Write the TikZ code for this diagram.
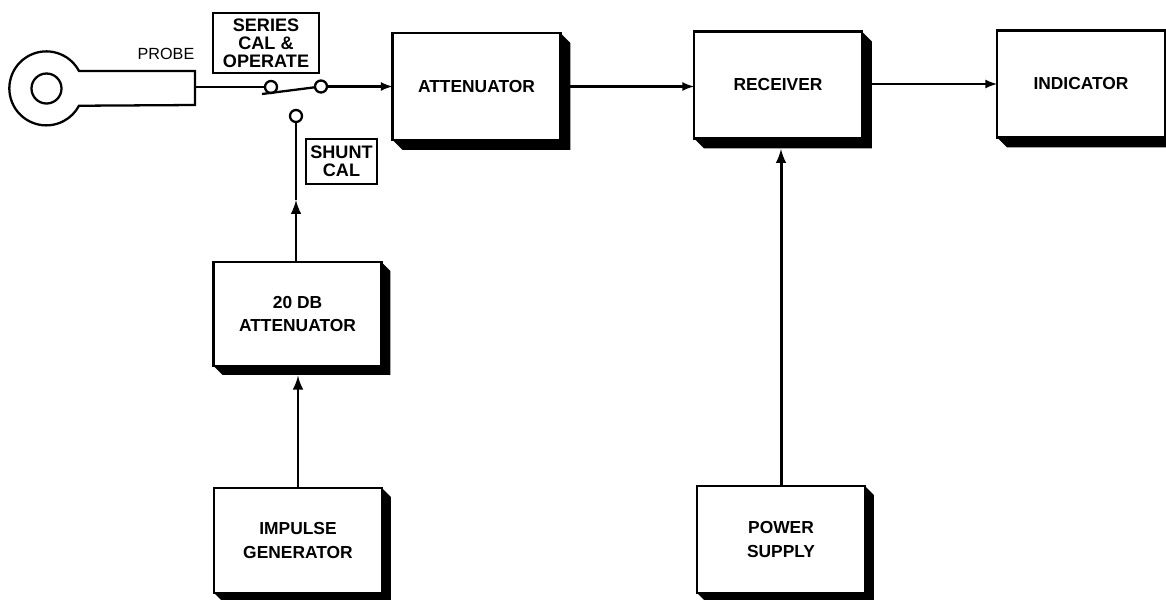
\documentclass[tikz,border=0pt]{standalone}
\usepackage{fontspec}
\setmainfont{Liberation Sans}
\usetikzlibrary{calc}
\tikzset{
	block/.style={draw, line width=1.4pt, fill=white, align=center, outer sep=0pt, inner sep=0pt,
		minimum width=3.36cm, minimum height=2.14cm, font=\fontsize{9.9}{13.6}\selectfont\bfseries},
	tag/.style={draw, line width=1pt, align=center, outer sep=0pt, inner sep=0pt,
		font=\fontsize{10.3}{10.3}\selectfont\bfseries},
	contact/.style={draw, line width=1.3pt, circle, fill=white, minimum size=0.24cm, inner sep=0pt, outer sep=0pt},
	wire/.style={line width=1.3pt},
	riser/.style={line width=1.7pt},
}
\def\castshadow(#1)(#2){\fill[black] (#1.north east) -- ++(#2,#2) -- ($(#1.south east)+(#2,#2)$) -- ($(#1.south west)+(#2,#2)$) -- (#1.south west) -- (#1.south east) -- cycle;}

\begin{document}
\begin{tikzpicture}[x=0.02cm, y=-0.02cm]
		%%%%% FRAME %%%%%
		\useasboundingbox (0, 0) rectangle (1166, 599);
		
		%%%%% BLOCKS %%%%%
		\node[block] (atten) at (476.5, 86.5) {ATTENUATOR};
		\node[block] (recv) at (778, 85) {RECEIVER};
		\node[block] (indic) at (1081, 84) {INDICATOR};
		\node[block, minimum height=2.08cm] (dbatten) at (297.5, 314) {20 DB\\ATTENUATOR};
		\node[block, minimum height=2.1cm] (impulse) at (298, 540.5) {IMPULSE\\GENERATOR};
		\node[block] (supply) at (781, 539.5) {POWER\\SUPPLY};
		\foreach \blk/\off in {atten/10, recv/10, indic/10, dbatten/9, impulse/9, supply/9}
			\castshadow(\blk)(\off);
		
		%%%%% PROBE %%%%%
		\draw[line width=1.3pt] (195, 71) -- (79, 71) arc (-28:-332:37) -- (195, 105) -- cycle;
		\draw[line width=1.3pt] (46.5, 88.5) circle (15);
		\coordinate (probetip) at (195, 87);
		\node[font=\fontsize{9.2}{10}\selectfont] (probelbl) at (166, 54) {PROBE};
		
		%%%%% SWITCH %%%%%
		\node[contact] (left) at (271, 87) {};
		\node[contact] (right) at (321, 86.5) {};
		\node[contact] (shunt) at (296, 116) {};
		\coordinate (bladeend) at (262, 94);
		\coordinate (shuntarrow) at (296, 200);
		\draw[wire] (probetip) -- (left);
		\draw[wire] (bladeend) -- (right);
		\draw[wire, -latex] (right) -- (atten.west);
		
		\node[tag, minimum width=2.12cm, minimum height=1.2cm] (seriestag) at (266, 43) {SERIES\\CAL \&\\OPERATE};
		\node[tag, minimum width=1.42cm, minimum height=0.9cm] (shunttag) at (341.5, 161.5) {SHUNT\\CAL};
		
		%%%%% CONNECTIONS %%%%%
		\draw[wire, -latex] (atten.east) -- (atten.east -| recv.west);
		\draw[wire, -latex] (recv.east |- indic.west) -- (indic.west);
		\draw[riser, -latex] (shunt |- dbatten.north) -- (shuntarrow);
		\draw[riser] (shuntarrow) -- (shunt);
		\draw[riser, -latex, shorten >=5.5pt] (impulse.north) -- (impulse.north |- dbatten.south);
		\draw[riser, -latex, shorten >=6pt] (supply.north) -- (supply.north |- recv.south);
		
	\end{tikzpicture}
\end{document}
